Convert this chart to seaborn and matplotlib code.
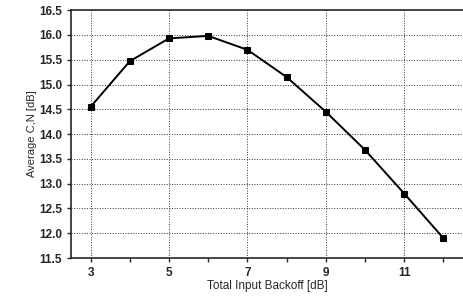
import numpy as np
import pandas as pd
import seaborn as sns
import matplotlib
matplotlib.use("Agg")
import matplotlib.pyplot as plt

# %% data
backoff = [3, 4, 5, 6, 7, 8, 9, 10, 11, 12]
avg_cn = [14.55, 15.47, 15.93, 15.98, 15.70, 15.15, 14.45, 13.68, 12.80, 11.90]

df = pd.DataFrame({"backoff": backoff, "cn": avg_cn})

# %% plot
sns.set_style("ticks")
plt.rcParams['font.family'] = ['Liberation Sans', 'DejaVu Sans']

fig = plt.figure(figsize=(4.64, 2.98), dpi=100)
ax = fig.add_axes([0.153, 0.134, 0.845, 0.832])

sns.lineplot(data=df, x="backoff", y="cn", ax=ax, color="black", lw=1.4,
             marker="s", markersize=5, markeredgecolor="black")

ax.set_xlim(2.5, 12.5)
ax.set_ylim(11.5, 16.5)
ax.set_xticks(range(3, 13))
ax.set_xticklabels([str(v) if v % 2 == 1 else "" for v in range(3, 13)])
ax.set_yticks(np.arange(11.5, 16.51, 0.5))
ax.set_yticklabels(["%.1f" % v for v in np.arange(11.5, 16.51, 0.5)])

# dotted grid, odd x only
for v in [3, 5, 7, 9, 11]:
    ax.axvline(v, color="#333333", ls=":", lw=0.7, zorder=0)
for v in np.arange(12.0, 16.5, 0.5):
    ax.axhline(v, color="#333333", ls=":", lw=0.7, zorder=0)

ax.tick_params(labelsize=8.5, length=3, direction="out", width=1)
for lab in ax.get_xticklabels() + ax.get_yticklabels():
    lab.set_fontweight("bold")
ax.spines["right"].set_visible(False)
for s in ["left", "bottom", "top"]:
    ax.spines[s].set_linewidth(1.2)
ax.set_xlabel("Total Input Backoff [dB]", fontsize=8.5, labelpad=1)
ax.set_ylabel("Average C,N [dB]", fontsize=8, labelpad=1)

plt.savefig("out.png", dpi=100)
plt.close()
